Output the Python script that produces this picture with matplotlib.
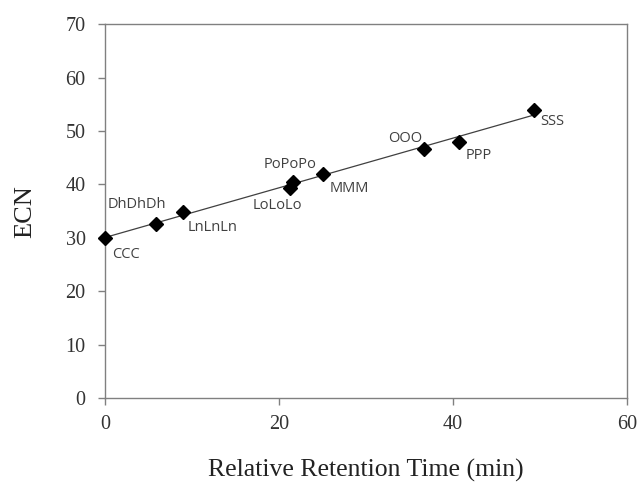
import matplotlib
matplotlib.use("Agg")
import matplotlib.pyplot as plt
import numpy as np

# data
names = ["CCC", "DhDhDh", "LnLnLn", "LoLoLo", "PoPoPo", "MMM", "OOO", "PPP", "SSS"]
rrt = [0.0, 5.9, 9.0, 21.3, 21.6, 25.0, 36.6, 40.7, 49.3]
ecn = [30.0, 32.6, 34.8, 39.4, 40.5, 42.0, 46.6, 48.0, 54.0]

xticks = [0, 20, 40, 60]
yticks = [0, 10, 20, 30, 40, 50, 60, 70]

# label placement in pixels relative to each point (dx, dy, ha)
label_offsets = [(7, -17, "left"), (-19, 19, "center"), (4, -15, "left"),
                 (12, -18, "right"), (-3, 17, "center"), (7, -15, "left"),
                 (-1, 11, "right"), (6, -14, "left"), (6, -12, "left")]

fig = plt.figure(figsize=(6.4, 4.83), dpi=100)
ax = fig.add_axes([0.164, 0.176, 0.816, 0.774])

# linear trend line
k, b = np.polyfit(rrt, ecn, 1)
xs = np.array([min(rrt), max(rrt)])
ax.plot(xs, k * xs + b, color="#404040", lw=0.9, zorder=2)

ax.plot(rrt, ecn, linestyle="none", marker="D", markersize=7,
        color="black", zorder=3, clip_on=False)

for name, x, y, (dx, dy, ha) in zip(names, rrt, ecn, label_offsets):
    ax.annotate(name, (x, y), xytext=(dx, dy), textcoords="offset pixels",
                ha=ha, va="center", fontsize=10.5, color="#404040",
                family="Open Sans")

ax.set_xlim(0, 60)
ax.set_ylim(0, 70)
ax.set_xticks(xticks)
ax.set_yticks(yticks)

for s in ax.spines.values():
    s.set_color("#808080")
    s.set_linewidth(1.0)

ax.tick_params(direction="out", length=5, color="#808080", width=1.0,
               labelsize=14.5, labelcolor="#333333")
ax.tick_params(axis="y", pad=9)
ax.tick_params(axis="x", pad=7)
for lab in ax.get_xticklabels() + ax.get_yticklabels():
    lab.set_family("Liberation Serif")

ax.set_xlabel("Relative Retention Time (min)", family="Liberation Serif",
              fontsize=18.5, color="#222222", labelpad=18)
ax.set_ylabel("ECN", family="Liberation Serif", fontsize=19,
              color="#222222", labelpad=21)

fig.savefig("out.png", dpi=100)
